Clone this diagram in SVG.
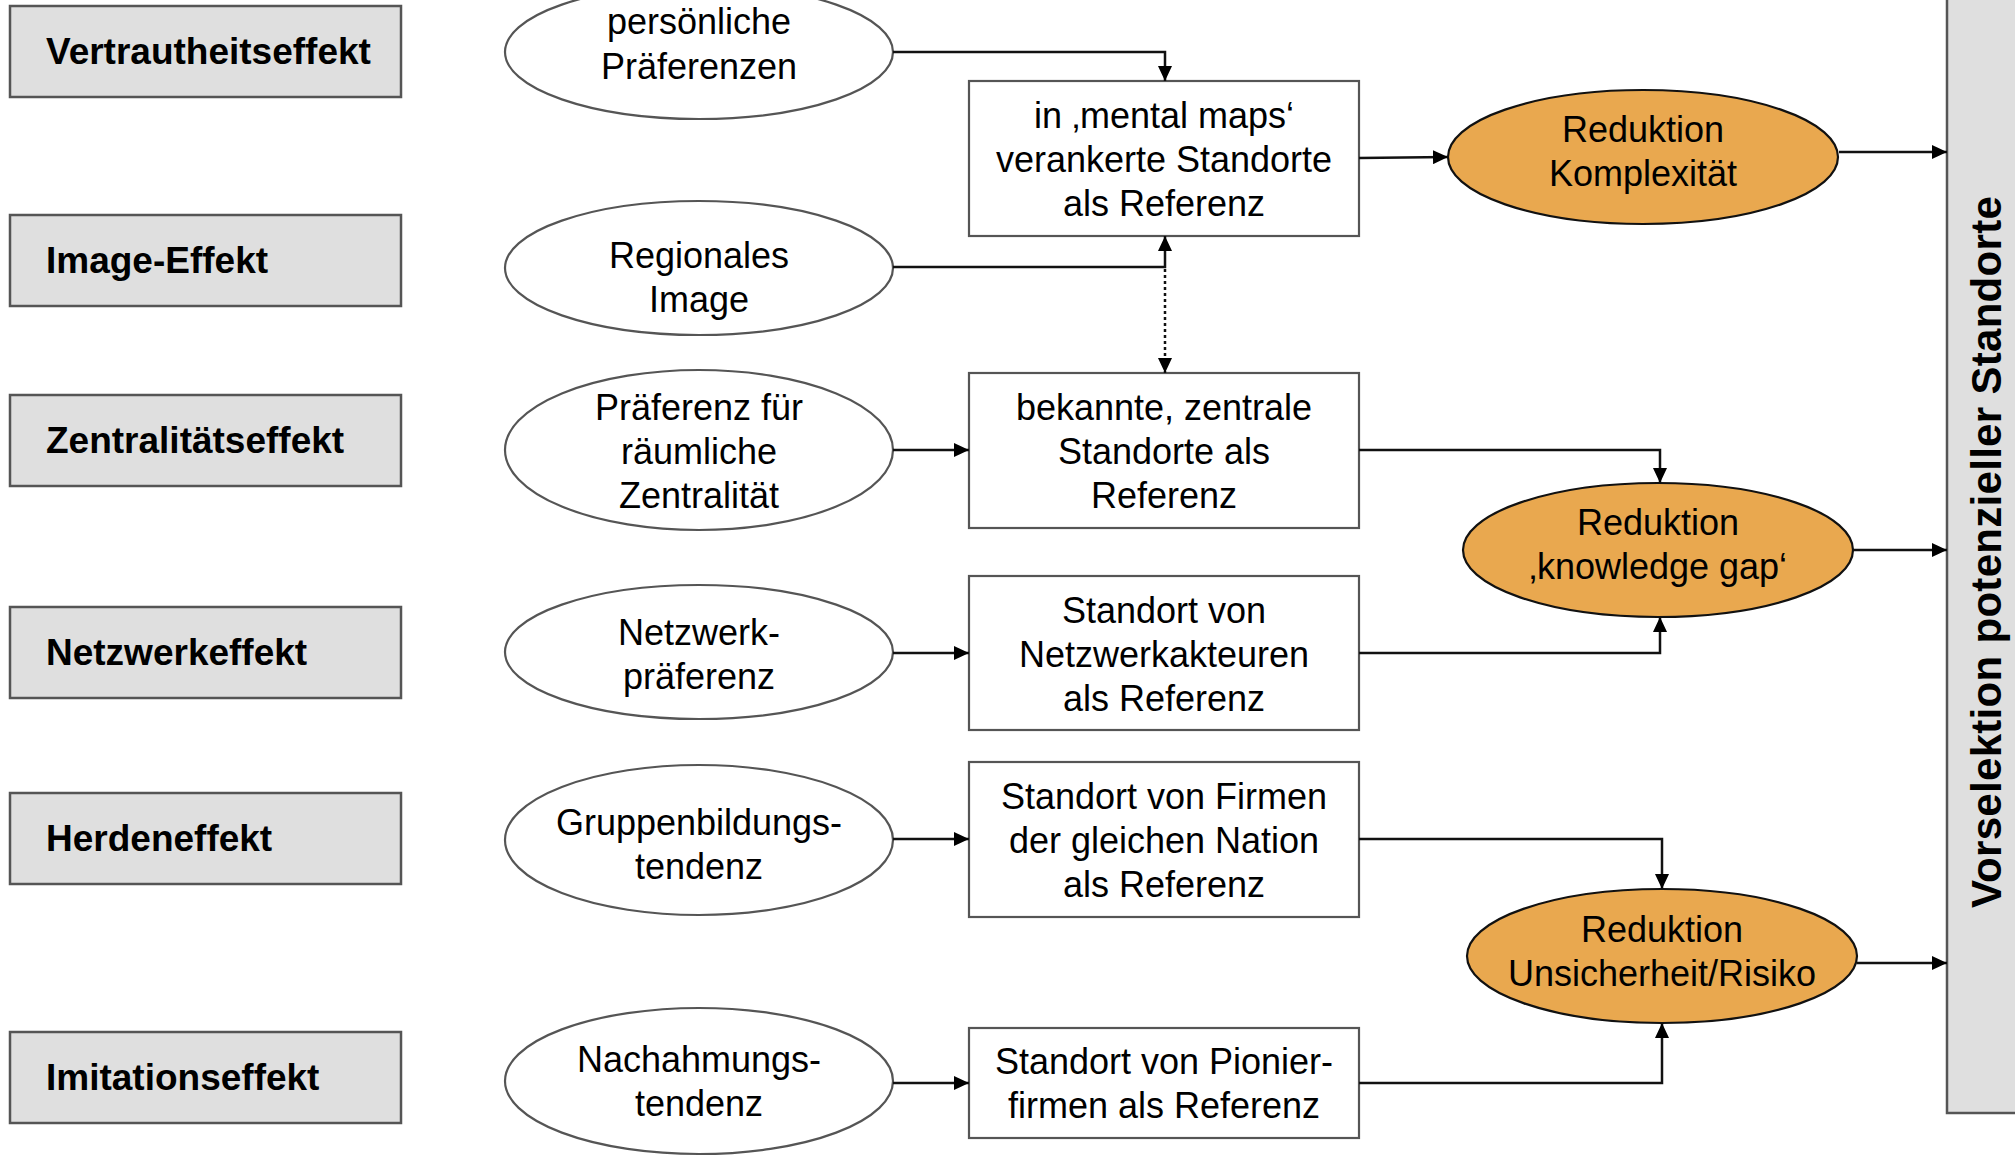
<svg xmlns="http://www.w3.org/2000/svg" width="2015" height="1156" viewBox="0 0 2015 1156">
<style>
  .eff rect { fill:#dfdfdf; stroke:#555; stroke-width:2.5; }
  .eff text { font-family:"Liberation Sans", Arial, sans-serif; font-weight:bold; font-size:37px; fill:#000; }
  .ell ellipse { fill:#fff; stroke:#555; stroke-width:2.2; }
  .ref rect { fill:#fff; stroke:#555; stroke-width:2.2; }
  .red ellipse { fill:#E9A84F; stroke:#111; stroke-width:2.2; }
  .t { font-family:"Liberation Sans", Arial, sans-serif; font-size:36px; fill:#000; text-anchor:middle; }
  .conn path { fill:none; stroke:#111; stroke-width:2.5; }
  .conn path.dot { stroke-dasharray:3 3; stroke-width:2.5; }
</style>
<defs>
  <marker id="arr" markerUnits="userSpaceOnUse" markerWidth="16" markerHeight="14" refX="15" refY="7" orient="auto">
    <path d="M0,0 L15,7 L0,14 z" fill="#000"/>
  </marker>
</defs>
<rect width="2015" height="1156" fill="#fff"/>

<!-- left effect boxes -->
<g id="vertrautheitseffekt" class="eff"><rect x="10" y="6" width="391" height="91"/><text x="46" y="64">Vertrautheitseffekt</text></g>
<g id="image-effekt" class="eff"><rect x="10" y="215" width="391" height="91"/><text x="46" y="273">Image-Effekt</text></g>
<g id="zentralitaetseffekt" class="eff"><rect x="10" y="395" width="391" height="91"/><text x="46" y="453">Zentralitätseffekt</text></g>
<g id="netzwerkeffekt" class="eff"><rect x="10" y="607" width="391" height="91"/><text x="46" y="665">Netzwerkeffekt</text></g>
<g id="herdeneffekt" class="eff"><rect x="10" y="793" width="391" height="91"/><text x="46" y="851">Herdeneffekt</text></g>
<g id="imitationseffekt" class="eff"><rect x="10" y="1032" width="391" height="91"/><text x="46" y="1090">Imitationseffekt</text></g>

<!-- ellipses -->
<g id="persoenliche-praeferenzen" class="ell"><ellipse cx="699" cy="52" rx="194" ry="67"/><text class="t" x="699" y="34">persönliche</text><text class="t" x="699" y="79">Präferenzen</text></g>
<g id="regionales-image" class="ell"><ellipse cx="699" cy="268" rx="194" ry="67"/><text class="t" x="699" y="268">Regionales</text><text class="t" x="699" y="312">Image</text></g>
<g id="praeferenz-zentralitaet" class="ell"><ellipse cx="699" cy="450" rx="194" ry="80"/><text class="t" x="699" y="420">Präferenz für</text><text class="t" x="699" y="464">räumliche</text><text class="t" x="699" y="508">Zentralität</text></g>
<g id="netzwerkpraeferenz" class="ell"><ellipse cx="699" cy="652" rx="194" ry="67"/><text class="t" x="699" y="645">Netzwerk-</text><text class="t" x="699" y="689">präferenz</text></g>
<g id="gruppenbildungstendenz" class="ell"><ellipse cx="699" cy="840" rx="194" ry="75"/><text class="t" x="699" y="835">Gruppenbildungs-</text><text class="t" x="699" y="879">tendenz</text></g>
<g id="nachahmungstendenz" class="ell"><ellipse cx="699" cy="1081" rx="194" ry="73"/><text class="t" x="699" y="1072">Nachahmungs-</text><text class="t" x="699" y="1116">tendenz</text></g>

<!-- reference boxes -->
<g id="mental-maps" class="ref"><rect x="969" y="81" width="390" height="155"/><text class="t" x="1164" y="128">in ‚mental maps‘</text><text class="t" x="1164" y="172">verankerte Standorte</text><text class="t" x="1164" y="216">als Referenz</text></g>
<g id="zentrale-standorte" class="ref"><rect x="969" y="373" width="390" height="155"/><text class="t" x="1164" y="420">bekannte, zentrale</text><text class="t" x="1164" y="464">Standorte als</text><text class="t" x="1164" y="508">Referenz</text></g>
<g id="netzwerkakteure" class="ref"><rect x="969" y="576" width="390" height="154"/><text class="t" x="1164" y="623">Standort von</text><text class="t" x="1164" y="667">Netzwerkakteuren</text><text class="t" x="1164" y="711">als Referenz</text></g>
<g id="firmen-nation" class="ref"><rect x="969" y="762" width="390" height="155"/><text class="t" x="1164" y="809">Standort von Firmen</text><text class="t" x="1164" y="853">der gleichen Nation</text><text class="t" x="1164" y="897">als Referenz</text></g>
<g id="pionierfirmen" class="ref"><rect x="969" y="1028" width="390" height="110"/><text class="t" x="1164" y="1074">Standort von Pionier-</text><text class="t" x="1164" y="1118">firmen als Referenz</text></g>

<!-- reduction ellipses -->
<g id="reduktion-komplexitaet" class="red"><ellipse cx="1643" cy="157" rx="195" ry="67"/><text class="t" x="1643" y="142">Reduktion</text><text class="t" x="1643" y="186">Komplexität</text></g>
<g id="reduktion-knowledge-gap" class="red"><ellipse cx="1658" cy="550" rx="195" ry="67"/><text class="t" x="1658" y="535">Reduktion</text><text class="t" x="1658" y="579">‚knowledge gap‘</text></g>
<g id="reduktion-unsicherheit" class="red"><ellipse cx="1662" cy="956" rx="195" ry="67"/><text class="t" x="1662" y="942">Reduktion</text><text class="t" x="1662" y="986">Unsicherheit/Risiko</text></g>

<!-- right box -->
<g id="vorselektion">
  <rect x="1947" y="-5" width="80" height="1118" fill="#dfdfdf" stroke="#555" stroke-width="2.5"/>
  <text x="0" y="0" transform="translate(2001,552) rotate(-90)" text-anchor="middle" style="font-family:'Liberation Sans', Arial, sans-serif; font-weight:bold; font-size:42px; letter-spacing:0.3px;">Vorselektion potenzieller Standorte</text>
</g>

<!-- connectors -->
<g id="connectors" class="conn">
  <path d="M893,52 H1165 V81" marker-end="url(#arr)"/>
  <path d="M893,267 H1165 V236" marker-end="url(#arr)"/>
  <path class="dot" d="M1165,269 V373" marker-end="url(#arr)"/>
  <path d="M893,450 H969" marker-end="url(#arr)"/>
  <path d="M893,653 H969" marker-end="url(#arr)"/>
  <path d="M893,839 H969" marker-end="url(#arr)"/>
  <path d="M893,1083 H969" marker-end="url(#arr)"/>
  <path d="M1359,158 L1448,157" marker-end="url(#arr)"/>
  <path d="M1839,152 H1947" marker-end="url(#arr)"/>
  <path d="M1359,450 H1660 V483" marker-end="url(#arr)"/>
  <path d="M1359,653 H1660 V617" marker-end="url(#arr)"/>
  <path d="M1853,550 H1947" marker-end="url(#arr)"/>
  <path d="M1359,839 H1662 V889" marker-end="url(#arr)"/>
  <path d="M1359,1083 H1662 V1023" marker-end="url(#arr)"/>
  <path d="M1857,963 H1947" marker-end="url(#arr)"/>
</g>
</svg>
